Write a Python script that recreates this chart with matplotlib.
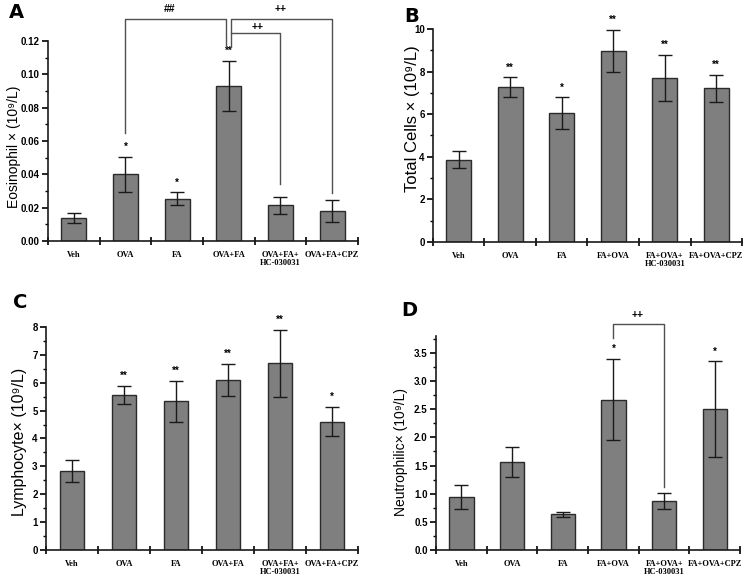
import matplotlib
matplotlib.use('Agg')
import matplotlib.pyplot as plt
import numpy as np

plt.rcParams['font.family'] = ['Liberation Sans', 'DejaVu Sans']

# group names
labels_ova_fa = ['Veh', 'OVA', 'FA', 'OVA+FA', 'OVA+FA+\nHC-030031', 'OVA+FA+CPZ']
labels_fa_ova = ['Veh', 'OVA', 'FA', 'FA+OVA', 'FA+OVA+\nHC-030031', 'FA+OVA+CPZ']

# A - eosinophil
eos_mean = [0.014, 0.040, 0.0255, 0.093, 0.0215, 0.018]
eos_err = [0.003, 0.0105, 0.0037, 0.015, 0.005, 0.0068]
eos_stars = ['', '*', '*', '**', '', '']

# B - total cells
total_mean = [3.87, 7.28, 6.05, 8.97, 7.72, 7.22]
total_err = [0.40, 0.45, 0.74, 0.97, 1.08, 0.64]
total_stars = ['', '**', '*', '**', '**', '**']

# C - lymphocyte
lym_mean = [2.83, 5.55, 5.33, 6.10, 6.70, 4.60]
lym_err = [0.40, 0.33, 0.73, 0.57, 1.20, 0.52]
lym_stars = ['', '**', '**', '**', '**', '*']

# D - neutrophil
neu_mean = [0.94, 1.56, 0.63, 2.67, 0.87, 2.50]
neu_err = [0.22, 0.27, 0.05, 0.72, 0.15, 0.85]
neu_stars = ['', '', '', '*', '', '*']

BAR_COLOR = '#7f7f7f'
EDGE = '#2b2b2b'
LINE = '#505050'


def bar_panel(ax, labels, mean, err, stars, ylim, yticks, yfmt, ylabel, lsize, lx, ly):
    x = np.arange(len(labels))
    ax.bar(x, mean, width=0.48, color=BAR_COLOR, edgecolor=EDGE, linewidth=1.0, zorder=2)
    ax.errorbar(x, mean, yerr=err, fmt='none', ecolor='#1a1a1a', elinewidth=1.0,
                capsize=5, capthick=1.0, zorder=3)
    for xi, m, e, s in zip(x, mean, err, stars):
        if s:
            ax.annotate(s, (xi, m + e), xytext=(0, 5), textcoords='offset points',
                        ha='center', va='baseline', fontsize=7, fontweight='bold',
                        annotation_clip=False)

    ax.set_xlim(-0.5, len(labels) - 0.5)
    ax.set_ylim(*ylim)
    ax.spines['top'].set_visible(False)
    ax.spines['right'].set_visible(False)
    for side in ['left', 'bottom']:
        ax.spines[side].set_linewidth(1.2)
        ax.spines[side].set_color('#1a1a1a')

    # x: ticks at group borders, labels in the middle
    ax.set_xticks(np.arange(-0.5, len(labels), 1.0))
    ax.set_xticklabels([])
    ax.tick_params(axis='x', which='major', direction='inout', length=6, width=1.2)
    ax.set_xticks(x, minor=True)
    ax.set_xticklabels(labels, minor=True, fontsize=6, fontweight='bold',
                       family='Liberation Serif', linespacing=1.0)
    ax.tick_params(axis='x', which='minor', length=0, pad=7)

    ax.set_yticks(yticks)
    ax.set_yticklabels([yfmt.format(v) for v in yticks], fontsize=7, fontweight='bold')
    step = yticks[1] - yticks[0]
    ax.set_yticks(np.arange(yticks[0] + step / 2, ylim[1], step), minor=True)
    ax.tick_params(axis='y', which='major', direction='out', length=4, width=1.2, pad=2)
    ax.tick_params(axis='y', which='minor', direction='out', length=2, width=1.0)

    ax.set_ylabel(ylabel, fontsize=lsize)
    ax.yaxis.set_label_coords(lx, ly)


fig = plt.figure(figsize=(7.53, 5.81), dpi=100)

axA = fig.add_axes([0.0637, 0.5852, 0.4117, 0.3442])
bar_panel(axA, labels_ova_fa, eos_mean, eos_err, eos_stars, (0, 0.12),
          [0.0, 0.02, 0.04, 0.06, 0.08, 0.10, 0.12], '{:.2f}',
          'Eosinophil × (10⁹/L)', 10, -0.088, 0.47)

axB = fig.add_axes([0.575, 0.5835, 0.4104, 0.3666])
bar_panel(axB, labels_fa_ova, total_mean, total_err, total_stars, (0, 10),
          [0, 2, 4, 6, 8, 10], '{:d}',
          'Total Cells × (10⁹/L)', 12, -0.042, 0.577)

axC = fig.add_axes([0.0611, 0.0534, 0.4143, 0.3838])
bar_panel(axC, labels_ova_fa, lym_mean, lym_err, lym_stars, (0, 8),
          [0, 1, 2, 3, 4, 5, 6, 7, 8], '{:d}',
          'Lymphocyte× (10⁹/L)', 11.5, -0.062, 0.484)

axD = fig.add_axes([0.579, 0.0534, 0.404, 0.3683])
bar_panel(axD, labels_fa_ova, neu_mean, neu_err, neu_stars, (0, 3.8),
          [0.0, 0.5, 1.0, 1.5, 2.0, 2.5, 3.0, 3.5], '{:.1f}',
          'Neutrophilic× (10⁹/L)', 10, -0.092, 0.458)

# comparison brackets
def bracket(ax, xs, ys, text, tx, ty):
    ax.plot(xs, ys, color=LINE, lw=1.0, clip_on=False, zorder=4)
    ax.text(tx, ty, text, ha='center', va='center', fontsize=7.5, fontweight='bold')

bracket(axA, [1, 1, 2.95, 2.95], [0.065, 0.133, 0.133, 0.1165], '##', 1.86, 0.139)
bracket(axA, [3.05, 3.05, 5, 5], [0.1165, 0.133, 0.133, 0.029], '++', 4.0, 0.139)
bracket(axA, [3.05, 4, 4], [0.125, 0.125, 0.034], '++', 3.56, 0.1285)
bracket(axD, [3, 3, 4, 4], [3.77, 4.01, 4.01, 1.12], '++', 3.48, 4.17)

# panel letters
for letter, (px, py) in zip('ABCD', [(16, 12), (412, 16), (20, 303), (409, 311)]):
    fig.text(px / 753, 1 - py / 581, letter, fontsize=14, fontweight='bold',
             ha='center', va='center', family='DejaVu Sans')

fig.savefig('out.png', dpi=100)
